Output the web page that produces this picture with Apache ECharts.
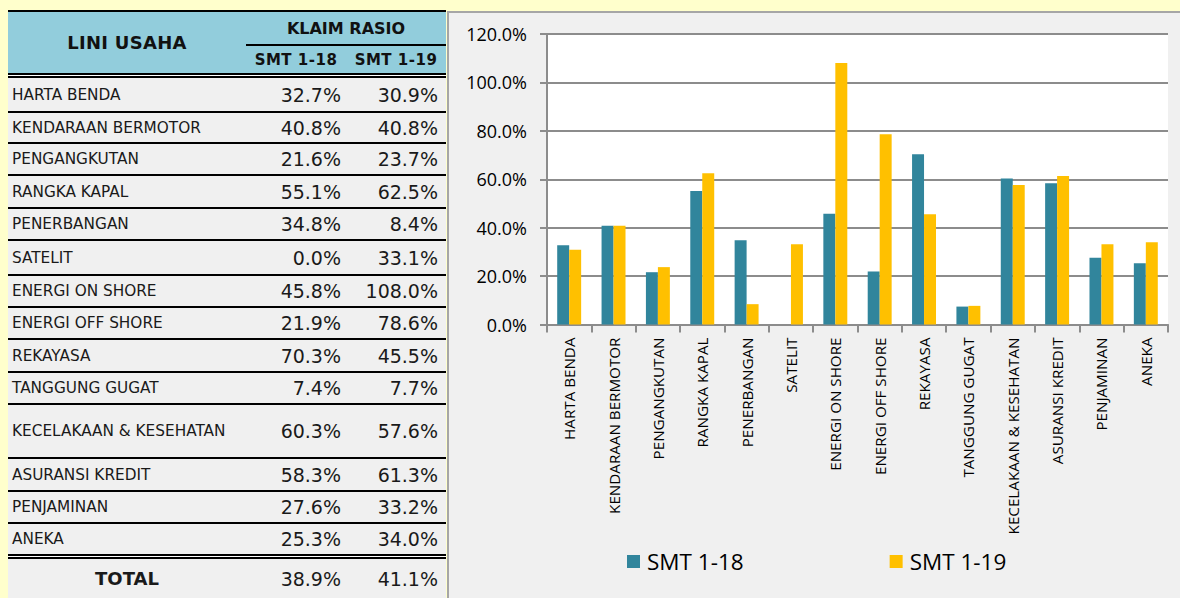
<!DOCTYPE html>
<html>
<head>
<meta charset="utf-8">
<script src="https://cdn.jsdelivr.net/npm/echarts@6/dist/echarts.min.js"></script>
<style>
  html, body { margin:0; padding:0; }
  body { width:1180px; height:598px; overflow:hidden; background:#FFFFCC; position:relative; font-family:'DejaVu Sans', sans-serif; color:#1a1a1a; }
  #tbl { position:absolute; left:8px; top:10px; width:438px; }
  #panel { position:absolute; left:447px; top:11px; width:733px; height:587px; background:#F0F0F0; border-top:2px solid #A6A6A6; border-left:2px solid #A6A6A6; box-sizing:border-box; }
  #chart { position:absolute; left:449px; top:13px; width:731px; height:585px; }
  .hdr { position:absolute; display:flex; align-items:center; justify-content:center; font-weight:bold; color:#111; }
  .row { display:flex; align-items:center; background:#F0F0F0; box-sizing:border-box; }
  .c1 { width:238px; padding-left:4px; box-sizing:border-box; font-size:15.3px; white-space:nowrap; }
  .c2 { width:99px; padding-right:4px; box-sizing:border-box; text-align:right; font-size:19px; }
  .c3 { width:101px; padding-right:8px; box-sizing:border-box; text-align:right; font-size:19px; }
</style>
</head>
<body>
<div id="tbl"></div>
<div id="panel"></div>
<div id="chart"></div>
<script>
// ---- data ----
const categories = ['HARTA BENDA','KENDARAAN BERMOTOR','PENGANGKUTAN','RANGKA KAPAL','PENERBANGAN','SATELIT','ENERGI ON SHORE','ENERGI OFF SHORE','REKAYASA','TANGGUNG GUGAT','KECELAKAAN & KESEHATAN','ASURANSI KREDIT','PENJAMINAN','ANEKA'];
const smt118 = [32.7, 40.8, 21.6, 55.1, 34.8, 0.0, 45.8, 21.9, 70.3, 7.4, 60.3, 58.3, 27.6, 25.3];
const smt119 = [30.9, 40.8, 23.7, 62.5, 8.4, 33.1, 108.0, 78.6, 45.5, 7.7, 57.6, 61.3, 33.2, 34.0];
const seriesNames = ['SMT 1-18', 'SMT 1-19'];
const totalLabel = 'TOTAL';
const totals = [38.9, 41.1];
const tableTitle = 'LINI USAHA';
const groupTitle = 'KLAIM RASIO';
const yMin = 0, yMax = 120, yStep = 20;

// ---- layout (not data) ----
const rowHeights = [35, 31, 32, 33, 32, 35, 32, 32, 33, 32, 54, 33, 32, 30];
const pct = v => v.toFixed(1) + '%';

// ---- table ----
const tbl = document.getElementById('tbl');
let html = '';
html += '<div style="height:2px;background:#000"></div>';
html += '<div style="position:relative;height:61px;background:#92CDDC">' +
  '<div class="hdr" style="left:0;top:0;width:238px;height:61px;font-size:18px;letter-spacing:0.3px">' + tableTitle + '</div>' +
  '<div class="hdr" style="left:238px;top:0;width:200px;height:33px;font-size:16px">' + groupTitle + '</div>' +
  '<div style="position:absolute;left:238px;top:32px;width:200px;height:2px;background:#000"></div>' +
  '<div class="hdr" style="left:238px;top:34px;width:100px;height:27px;font-size:15px;letter-spacing:0.5px">' + seriesNames[0] + '</div>' +
  '<div class="hdr" style="left:338px;top:34px;width:100px;height:27px;font-size:15px;letter-spacing:0.5px">' + seriesNames[1] + '</div>' +
  '</div>';
html += '<div style="height:5px;border-top:2px solid #000;border-bottom:2px solid #000;background:#fff;box-sizing:border-box"></div>';
categories.forEach((c, i) => {
  const last = i === categories.length - 1;
  html += '<div class="row" style="height:' + rowHeights[i] + 'px;' + (last ? '' : 'border-bottom:2px solid #000;') + '">' +
    '<div class="c1">' + c.replace('&', '&amp;') + '</div>' +
    '<div class="c2">' + pct(smt118[i]) + '</div>' +
    '<div class="c3">' + pct(smt119[i]) + '</div></div>';
});
html += '<div style="height:5px;border-top:2px solid #000;border-bottom:2px solid #000;background:#fff;box-sizing:border-box"></div>';
html += '<div class="row" style="height:39px">' +
  '<div class="c1" style="text-align:center;font-weight:bold;font-size:18px;padding-left:0">' + totalLabel + '</div>' +
  '<div class="c2">' + pct(totals[0]) + '</div>' +
  '<div class="c3">' + pct(totals[1]) + '</div></div>';
tbl.innerHTML = html;

// ---- chart ----
const chart = echarts.init(document.getElementById('chart'), null, { renderer: 'svg' });
const axisGray = '#8C8C8C';
chart.setOption({
  animation: false,
  grid: { left: 98, top: 21, right: 12, bottom: 273.5, show: true, backgroundColor: '#FFFFFF', borderWidth: 0 },
  legend: {
    data: seriesNames, left: 173, top: 532, icon: 'rect', itemWidth: 13, itemHeight: 13, itemGap: 146,
    textStyle: { fontFamily: 'Open Sans', fontSize: 22.5, color: '#000', padding: [0, 0, 0, 2] }
  },
  xAxis: {
    type: 'category', data: categories,
    axisLine: { lineStyle: { color: axisGray, width: 2 } },
    axisTick: { show: true, length: 8, lineStyle: { color: axisGray, width: 2 } },
    axisLabel: { interval: 0, rotate: 90, margin: 13, fontFamily: 'Open Sans', fontSize: 15.2, color: '#000' }
  },
  yAxis: {
    type: 'value', min: yMin, max: yMax, interval: yStep,
    axisLine: { show: true, lineStyle: { color: axisGray, width: 2 } },
    axisTick: { show: true, length: 7, lineStyle: { color: axisGray, width: 2 } },
    splitLine: { lineStyle: { color: axisGray, width: 2 } },
    axisLabel: { formatter: v => pct(v), fontFamily: 'Open Sans', fontSize: 18, color: '#000', margin: 20 }
  },
  series: [
    { name: seriesNames[0], type: 'bar', data: smt118, itemStyle: { color: '#31859C' }, barGap: '0%', barCategoryGap: '46%' },
    { name: seriesNames[1], type: 'bar', data: smt119, itemStyle: { color: '#FFC000' }, barGap: '0%', barCategoryGap: '46%' }
  ]
});
</script>
</body>
</html>
